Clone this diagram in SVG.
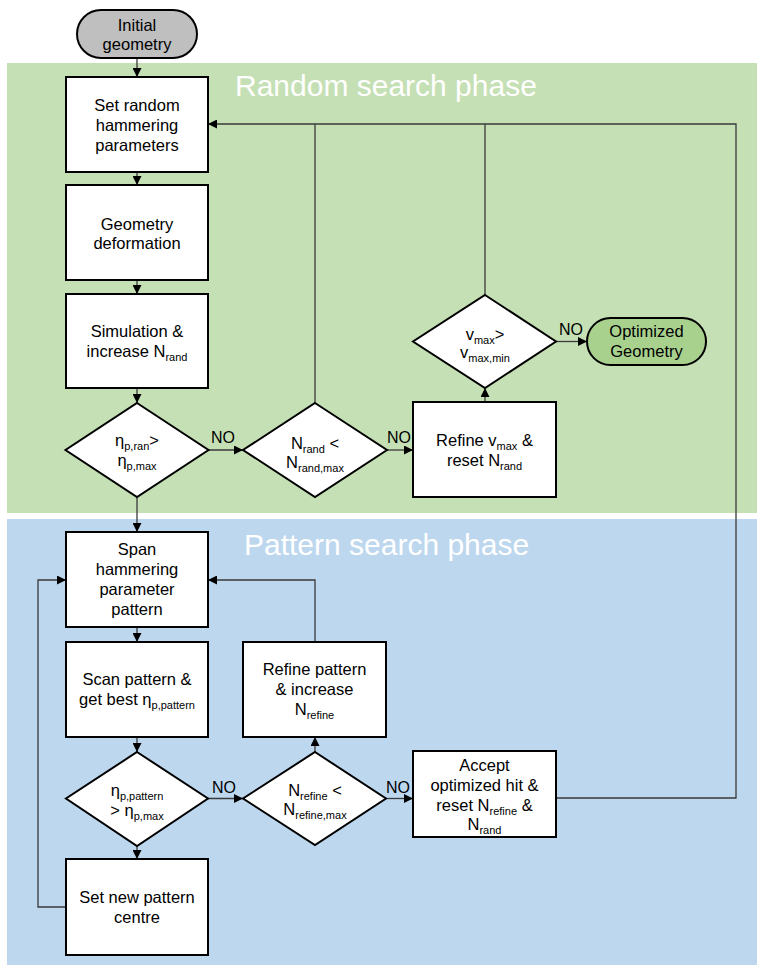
<svg xmlns="http://www.w3.org/2000/svg" width="757" height="965" viewBox="0 0 757 965">
  <style>
    text { font-family: "Liberation Sans", Arial, sans-serif; font-size: 16.5px; fill: #000; text-anchor: middle; }
    .title { font-size: 30px; fill: #ffffff; text-anchor: start; }
    .lbl { font-size: 16px; text-anchor: start; }
    .sub { font-size: 11px; }
    .box { fill: #ffffff; stroke: #000; stroke-width: 2; }
    .conn { fill: none; stroke: #3a3a3a; stroke-width: 1.3; }
    .arr { marker-end: url(#ah); }
  </style>
  <defs>
    <marker id="ah" viewBox="0 0 10 10" refX="10" refY="5" markerWidth="9" markerHeight="9" markerUnits="userSpaceOnUse" orient="auto">
      <path d="M0,0 L10,5 L0,10 z" fill="#000"/>
    </marker>
  </defs>

  <!-- phase backgrounds -->
  <rect x="7" y="63" width="750" height="450" fill="#c5e0b4"/>
  <rect x="7" y="519" width="750" height="446" fill="#bdd7ee"/>
  <text class="title" x="235" y="96">Random search phase</text>
  <text class="title" x="244" y="555">Pattern search phase</text>

  <!-- connectors -->
  <g id="connectors">
    <path class="conn arr" d="M137,58 V77"/>
    <path class="conn arr" d="M137,172 V185"/>
    <path class="conn arr" d="M137,280 V294"/>
    <path class="conn arr" d="M137,388 V403"/>
    <path class="conn arr" d="M208.5,450 H243"/>
    <path class="conn arr" d="M387,450 H413"/>
    <path class="conn" d="M315,403 V124"/>
    <path class="conn" d="M485,295 V124"/>
    <path class="conn arr" d="M556,798 H736 V124 H208"/>
    <path class="conn arr" d="M485,402 V388"/>
    <path class="conn arr" d="M556,341.5 H587"/>
    <path class="conn arr" d="M137,497 V532"/>
    <path class="conn arr" d="M137,627 V642"/>
    <path class="conn arr" d="M137,737 V752"/>
    <path class="conn arr" d="M208,798.5 H243"/>
    <path class="conn arr" d="M386,798.5 H413"/>
    <path class="conn arr" d="M315,752 V737"/>
    <path class="conn arr" d="M315,642 V580 H208"/>
    <path class="conn arr" d="M137,846 V859"/>
    <path class="conn arr" d="M66,907 H38 V580 H66"/>
    <text class="lbl" x="211" y="443">NO</text>
    <text class="lbl" x="387" y="443">NO</text>
    <text class="lbl" x="559" y="335">NO</text>
    <text class="lbl" x="212" y="793">NO</text>
    <text class="lbl" x="386" y="793">NO</text>
  </g>

  <!-- random search phase nodes -->
  <g id="initial-geometry">
    <rect x="77" y="10" width="120" height="48" rx="24" fill="#bfbfbf" stroke="#000" stroke-width="2"/>
    <text x="137" y="31">Initial</text>
    <text x="137" y="50">geometry</text>
  </g>
  <g id="set-random">
    <rect class="box" x="66" y="77" width="142" height="95"/>
    <text x="137" y="111">Set random</text>
    <text x="137" y="131">hammering</text>
    <text x="137" y="151">parameters</text>
  </g>
  <g id="geometry-deformation">
    <rect class="box" x="66" y="185" width="142" height="95"/>
    <text x="137" y="230">Geometry</text>
    <text x="137" y="249">deformation</text>
  </g>
  <g id="simulation">
    <rect class="box" x="66" y="294" width="142" height="94"/>
    <text x="137" y="337">Simulation &amp;</text>
    <text x="137" y="357">increase N<tspan class="sub" dy="4">rand</tspan></text>
  </g>
  <g id="decision-eta-ran">
    <polygon class="box" points="137,403 208.5,450 137,497 65.5,450"/>
    <text x="137" y="446">η<tspan class="sub" dy="4">p,ran</tspan><tspan dy="-4">&gt;</tspan></text>
    <text x="137" y="466">η<tspan class="sub" dy="4">p,max</tspan></text>
  </g>
  <g id="decision-n-rand">
    <polygon class="box" points="315,403 387,450 315,497 243,450"/>
    <text x="315" y="449">N<tspan class="sub" dy="4">rand</tspan><tspan dy="-4"> &lt;</tspan></text>
    <text x="315" y="468">N<tspan class="sub" dy="4">rand,max</tspan></text>
  </g>
  <g id="refine-vmax">
    <rect class="box" x="413" y="402" width="143" height="95"/>
    <text x="484.5" y="446">Refine v<tspan class="sub" dy="4">max</tspan><tspan dy="-4"> &amp;</tspan></text>
    <text x="484.5" y="466">reset N<tspan class="sub" dy="4">rand</tspan></text>
  </g>
  <g id="decision-vmax">
    <polygon class="box" points="485,295 556,341.5 485,388 413,341.5"/>
    <text x="485" y="340">v<tspan class="sub" dy="4">max</tspan><tspan dy="-4">&gt;</tspan></text>
    <text x="485" y="358">v<tspan class="sub" dy="4">max,min</tspan></text>
  </g>
  <g id="optimized-geometry">
    <rect x="587" y="318" width="119" height="47" rx="23.5" fill="#a9d18e" stroke="#000" stroke-width="2"/>
    <text x="646.5" y="337">Optimized</text>
    <text x="646.5" y="357">Geometry</text>
  </g>

  <!-- pattern search phase nodes -->
  <g id="span-pattern">
    <rect class="box" x="66" y="532" width="142" height="95"/>
    <text x="137" y="555">Span</text>
    <text x="137" y="575">hammering</text>
    <text x="137" y="595">parameter</text>
    <text x="137" y="615">pattern</text>
  </g>
  <g id="scan-pattern">
    <rect class="box" x="66" y="642" width="142" height="95"/>
    <text x="137" y="685">Scan pattern &amp;</text>
    <text x="137" y="705">get best η<tspan class="sub" dy="4">p,pattern</tspan></text>
  </g>
  <g id="decision-eta-pattern">
    <polygon class="box" points="137,752 208,798.5 137,846 66,798.5"/>
    <text x="137" y="796">η<tspan class="sub" dy="4">p,pattern</tspan></text>
    <text x="137" y="816">&gt; η<tspan class="sub" dy="4">p,max</tspan></text>
  </g>
  <g id="refine-pattern">
    <rect class="box" x="243" y="642" width="143" height="95"/>
    <text x="314.5" y="675">Refine pattern</text>
    <text x="314.5" y="695">&amp; increase</text>
    <text x="314.5" y="715">N<tspan class="sub" dy="4">refine</tspan></text>
  </g>
  <g id="decision-n-refine">
    <polygon class="box" points="315,752 386,798.5 315,845 243,798.5"/>
    <text x="315" y="796">N<tspan class="sub" dy="4">refine</tspan><tspan dy="-4"> &lt;</tspan></text>
    <text x="315" y="815">N<tspan class="sub" dy="4">refine,max</tspan></text>
  </g>
  <g id="accept-hit">
    <rect class="box" x="413" y="751" width="143" height="86"/>
    <text x="484.5" y="771">Accept</text>
    <text x="484.5" y="791">optimized hit &amp;</text>
    <text x="484.5" y="811">reset N<tspan class="sub" dy="3.5">refine</tspan><tspan dy="-3.5"> &amp;</tspan></text>
    <text x="484.5" y="830">N<tspan class="sub" dy="3.5">rand</tspan></text>
  </g>
  <g id="new-pattern-centre">
    <rect class="box" x="66" y="859" width="142" height="96"/>
    <text x="137" y="903">Set new pattern</text>
    <text x="137" y="923">centre</text>
  </g>
</svg>
